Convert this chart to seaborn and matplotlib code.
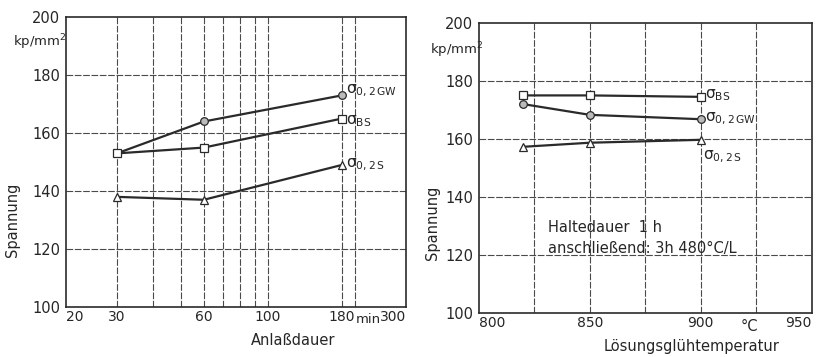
import matplotlib
matplotlib.use("Agg")
import matplotlib.pyplot as plt
import seaborn as sns
import numpy as np

# ---- data ----
t_anlass = [30, 60, 180]                 # min
gw_left = [153, 164, 173]
bs_left = [153, 155, 165]
s_left = [138, 137, 149]

t_loes = [820, 850, 900]                 # °C
bs_right = [175, 175, 174.5]
gw_right = [172, 168.3, 166.8]
s_right = [157.3, 158.7, 159.7]

left_xticks = [20, 30, 60, 100, 180, 300]
left_xgrid = [30, 40, 50, 60, 70, 80, 90, 100, 180, 200]
right_xticks = [800, 850, 900, 950]
right_xgrid = [825, 850, 875, 900, 925]
yticks = [100, 120, 140, 160, 180, 200]

sns.set_theme(style="white")
plt.rcParams['font.family'] = ['DejaVu Sans']

fig = plt.figure(figsize=(8.3, 3.57), dpi=100)
axL = fig.add_axes([0.0795, 0.140, 0.4095, 0.812])
axR = fig.add_axes([0.577, 0.123, 0.401, 0.813])

ink = "#2a2a2a"
grid_kw = dict(color="#4a4a4a", lw=0.8, ls=(0, (6, 1.5)), zorder=0)

def series(ax, x, y, marker, mfc):
    sns.lineplot(x=x, y=y, ax=ax, color=ink, lw=1.6, marker=marker, markersize=5.5,
                 markerfacecolor=mfc, markeredgecolor=ink, markeredgewidth=0.9, zorder=3)

# ---- left panel ----
axL.set_xscale("log")
axL.set_xlim(20, 300)
axL.set_ylim(100, 200)
for g in left_xgrid:
    axL.axvline(g, **grid_kw)
for g in yticks[1:-1]:
    axL.axhline(g, **grid_kw)
series(axL, t_anlass, gw_left, "o", "#bbbbbb")
series(axL, t_anlass, bs_left, "s", "white")
series(axL, t_anlass, s_left, "^", "white")
axL.set_xticks(left_xticks)
axL.set_xticklabels([str(v) for v in left_xticks])
axL.minorticks_off()
axL.text(222, 95.6, "min", ha="center", va="center", fontsize=9.5)
axL.set_yticks(yticks)
axL.text(-0.156, 0.914, "kp/mm$^2$", transform=axL.transAxes, fontsize=9.5, ha="left", va="center")
axL.set_xlabel("Anlaßdauer", fontsize=10.5)
axL.xaxis.set_label_coords(0.668, -0.09)
axL.set_ylabel("Spannung", fontsize=10.5)
axL.yaxis.set_label_coords(-0.135, 0.30)
axL.text(186, 174.5, r"σ$_\mathregular{0,2\,GW}$", fontsize=11, va="center", ha="left")
axL.text(186, 164, r"σ$_\mathregular{BS}$", fontsize=11, va="center", ha="left")
axL.text(186, 149, r"σ$_\mathregular{0,2\,S}$", fontsize=11, va="center", ha="left")

# ---- right panel ----
axR.set_xlim(800, 950)
axR.set_ylim(100, 200)
for g in right_xgrid:
    axR.axvline(g, **grid_kw)
for g in yticks[1:-1]:
    axR.axhline(g, **grid_kw)
series(axR, t_loes, bs_right, "s", "white")
series(axR, t_loes, gw_right, "o", "#bbbbbb")
series(axR, t_loes, s_right, "^", "white")
axR.set_xticks(right_xticks)
axR.set_yticks(yticks)
axR.text(922, 95.5, "°C", ha="center", va="center", fontsize=10.5)
axR.text(-0.147, 0.907, "kp/mm$^2$", transform=axR.transAxes, fontsize=9.5, ha="left", va="center")
axR.set_xlabel("Lösungsglühtemperatur", fontsize=10.5)
axR.xaxis.set_label_coords(0.64, -0.09)
axR.set_ylabel("Spannung", fontsize=10.5)
axR.yaxis.set_label_coords(-0.117, 0.31)
axR.text(902, 175, r"σ$_\mathregular{BS}$", fontsize=11, va="center", ha="left")
axR.text(902, 167, r"σ$_\mathregular{0,2\,GW}$", fontsize=11, va="center", ha="left")
axR.text(901, 154, r"σ$_\mathregular{0,2\,S}$", fontsize=11, va="center", ha="left")
axR.text(831, 126, "Haltedauer  1 h\nanschließend: 3h 480°C/L", fontsize=10.5,
         ha="left", va="center", linespacing=1.5)

for ax in (axL, axR):
    for sp in ax.spines.values():
        sp.set_color(ink)
        sp.set_linewidth(1.2)
    ax.tick_params(axis="both", labelsize=10.5, length=3, width=1, color=ink, pad=1)
    ax.tick_params(axis="x", direction="in", pad=2, labelsize=10)
    ax.get_xticklabels()[0].set_horizontalalignment("left")
    ax.get_xticklabels()[-1].set_horizontalalignment("right")

fig.savefig("out.png", dpi=100, facecolor="white")
